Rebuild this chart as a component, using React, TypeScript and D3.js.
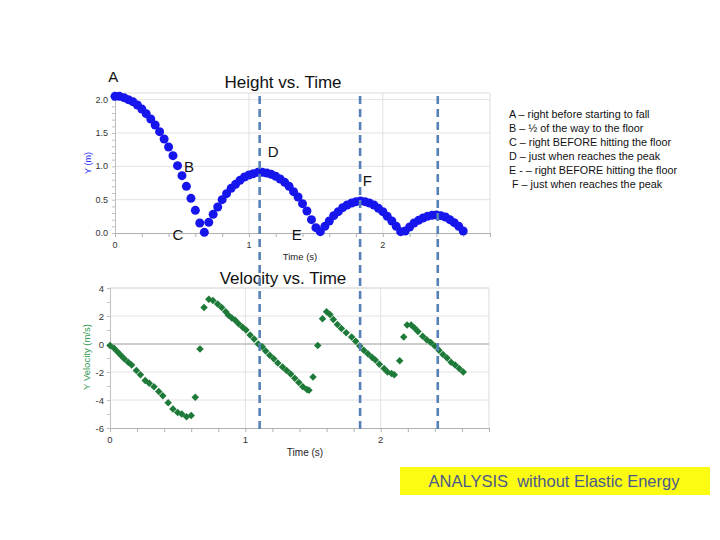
import React, { useEffect, useRef } from "react";
import * as d3 from "d3";

// height readings [time s, height m], one array per bounce
const fallOne: [number, number][] = [
  [0, 2.05], [0.033, 2.05], [0.067, 2.03], [0.1, 2.0], [0.133, 1.97], [0.167, 1.92],
  [0.2, 1.86], [0.233, 1.79], [0.267, 1.71], [0.3, 1.62], [0.333, 1.52], [0.367, 1.41],
  [0.4, 1.29], [0.433, 1.16], [0.467, 1.01], [0.5, 0.86], [0.533, 0.7], [0.567, 0.52],
  [0.6, 0.34], [0.633, 0.15], [0.667, 0.01],
];
const bounceOne: [number, number][] = [
  [0.7, 0.16], [0.733, 0.28], [0.767, 0.39], [0.8, 0.5], [0.833, 0.59], [0.867, 0.67],
  [0.9, 0.73], [0.933, 0.79], [0.967, 0.84], [1.0, 0.87], [1.033, 0.89], [1.067, 0.91],
  [1.1, 0.91], [1.133, 0.9], [1.167, 0.88], [1.2, 0.85], [1.233, 0.81], [1.267, 0.76],
  [1.3, 0.7], [1.333, 0.62], [1.367, 0.54], [1.4, 0.44], [1.433, 0.33], [1.467, 0.2],
  [1.5, 0.08], [1.533, 0.02],
];
const bounceTwo: [number, number][] = [
  [1.567, 0.1], [1.6, 0.18], [1.633, 0.26], [1.667, 0.32], [1.7, 0.38], [1.733, 0.42],
  [1.767, 0.45], [1.8, 0.47], [1.833, 0.48], [1.867, 0.47], [1.9, 0.45], [1.933, 0.42],
  [1.967, 0.37], [2.0, 0.32], [2.033, 0.25], [2.067, 0.18], [2.1, 0.1], [2.133, 0.02],
];
const bounceThree: [number, number][] = [
  [2.167, 0.03], [2.2, 0.09], [2.233, 0.15], [2.267, 0.19], [2.3, 0.225], [2.333, 0.25],
  [2.367, 0.265], [2.4, 0.27], [2.433, 0.26], [2.467, 0.24], [2.5, 0.2], [2.533, 0.155],
  [2.567, 0.1], [2.6, 0.03],
];

// velocity readings [time s, velocity m/s]
const velocity: [number, number][] = [
  [0, -0.1], [0.03, -0.3], [0.055, -0.55], [0.08, -0.8], [0.105, -1.05], [0.135, -1.3],
  [0.16, -1.5], [0.195, -1.9], [0.225, -2.2], [0.26, -2.6], [0.29, -2.8], [0.325, -3.05],
  [0.36, -3.4], [0.39, -3.7], [0.43, -4.2], [0.465, -4.65], [0.5, -4.9], [0.53, -5.0],
  [0.565, -5.2], [0.6, -5.1], [0.63, -3.8], [0.665, -0.35], [0.695, 2.6], [0.73, 3.2],
  [0.76, 3.1], [0.795, 2.85], [0.825, 2.6], [0.855, 2.3], [0.875, 2.05], [0.9, 1.85],
  [0.925, 1.7], [0.95, 1.45], [0.98, 1.2], [1.005, 1.0], [1.035, 0.65], [1.065, 0.35],
  [1.095, 0.0], [1.125, -0.2], [1.15, -0.5], [1.18, -0.8], [1.21, -1.05], [1.24, -1.35],
  [1.275, -1.65], [1.305, -1.9], [1.335, -2.15], [1.365, -2.45], [1.395, -2.75],
  [1.425, -3.05], [1.455, -3.25], [1.47, -3.3], [1.5, -2.35], [1.535, -0.1], [1.57, 1.8],
  [1.6, 2.3], [1.625, 2.1], [1.65, 1.75], [1.68, 1.4], [1.71, 1.1], [1.745, 0.8],
  [1.785, 0.5], [1.815, 0.2], [1.845, -0.15], [1.875, -0.45], [1.905, -0.7],
  [1.935, -0.95], [1.96, -1.15], [1.99, -1.45], [2.025, -1.75], [2.05, -2.0],
  [2.08, -2.1], [2.1, -2.2], [2.14, -1.2], [2.17, 0.5], [2.195, 1.35], [2.225, 1.35],
  [2.25, 1.15], [2.275, 0.9], [2.31, 0.55], [2.34, 0.3], [2.37, 0.1], [2.4, -0.15],
  [2.43, -0.45], [2.46, -0.75], [2.49, -1.0], [2.52, -1.3], [2.55, -1.5], [2.58, -1.75],
  [2.61, -2.0],
];

// vertical markers, in top-chart time
const markerTimes = [1.08, 1.83, 2.41];

// point letters placed in height-chart coordinates
const letters: { label: string; t: number; h: number }[] = [
  { label: "A", t: -0.05, h: 2.27 },
  { label: "B", t: 0.515, h: 0.92 },
  { label: "C", t: 0.43, h: -0.11 },
  { label: "D", t: 1.14, h: 1.14 },
  { label: "E", t: 1.32, h: -0.11 },
  { label: "F", t: 1.85, h: 0.71 },
];

const notes = [
  "A – right before starting to fall",
  "B – ½ of the way to the floor",
  "C – right BEFORE hitting the floor",
  "D – just when reaches the peak",
  "E - – right BEFORE hitting the floor",
  " F – just when reaches the peak",
];

const heightTicks = [0, 0.5, 1.0, 1.5, 2.0];
const velocityTicks = [-6, -4, -2, 0, 2, 4];
const timeTicks = [0, 1, 2];

const FONT = "Liberation Sans, Arial, sans-serif";

const App: React.FC = () => {
  const svgRef = useRef<SVGSVGElement | null>(null);

  useEffect(() => {
    if (!svgRef.current) return;
    const svg = d3.select(svgRef.current);
    svg.selectAll("*").remove();

    svg.append("rect").attr("width", 720).attr("height", 540).attr("fill", "#fff");

    // ---------- top chart ----------
    const xTop = d3.scaleLinear().domain([0, 2.8]).range([115, 490]);
    const yTop = d3.scaleLinear().domain([0, 2.1]).range([233, 93]);

    const top = svg.append("g");
    top.selectAll("line.hgrid")
      .data(heightTicks.filter((d) => d > 0))
      .enter().append("line")
      .attr("x1", xTop(0)).attr("x2", xTop(2.8))
      .attr("y1", (d) => yTop(d)).attr("y2", (d) => yTop(d))
      .attr("stroke", "#e2e2e2");
    top.selectAll("line.vgrid")
      .data([1, 2])
      .enter().append("line")
      .attr("x1", (d) => xTop(d)).attr("x2", (d) => xTop(d))
      .attr("y1", yTop(0)).attr("y2", yTop(2.1))
      .attr("stroke", "#e2e2e2");
    top.append("path")
      .attr("d", `M${xTop(0)},${yTop(2.1)}H${xTop(2.8)}V${yTop(0)}`)
      .attr("fill", "none").attr("stroke", "#dcdcdc");

    const xAxisTop = d3.axisBottom(xTop).tickValues(d3.range(0, 2.81, 0.2)).tickSize(4).tickFormat(() => "");
    top.append("g").attr("transform", `translate(0,${yTop(0)})`).call(xAxisTop)
      .call((g) => g.selectAll("path,line").attr("stroke", "#b0b0b0"));
    const yAxisTop = d3.axisLeft(yTop).tickValues(d3.range(0, 2.11, 0.1)).tickSize(3).tickFormat(() => "");
    top.append("g").attr("transform", `translate(${xTop(0)},0)`).call(yAxisTop)
      .call((g) => g.selectAll("path,line").attr("stroke", "#c0c0c0"));

    top.selectAll("text.xt").data(timeTicks).enter().append("text")
      .attr("x", (d) => xTop(d)).attr("y", 248).attr("text-anchor", "middle")
      .attr("font-family", FONT).attr("font-size", 9).attr("fill", "#333")
      .text((d) => d);
    top.selectAll("text.yt").data(heightTicks).enter().append("text")
      .attr("x", 108).attr("y", (d) => yTop(d) + 3).attr("text-anchor", "end")
      .attr("font-family", FONT).attr("font-size", 9).attr("fill", "#333")
      .text((d) => d.toFixed(1));

    top.append("text").attr("x", 283).attr("y", 88).attr("text-anchor", "middle")
      .attr("font-family", FONT).attr("font-size", 17).attr("fill", "#111")
      .text("Height vs. Time");
    top.append("text").attr("x", 300).attr("y", 260).attr("text-anchor", "middle")
      .attr("font-family", FONT).attr("font-size", 9.5).attr("fill", "#222")
      .text("Time (s)");
    top.append("text").attr("transform", "translate(91,163) rotate(-90)")
      .attr("text-anchor", "middle").attr("font-family", FONT).attr("font-size", 9)
      .attr("fill", "#2a2af0").text("Y (m)");

    const heights = [...fallOne, ...bounceOne, ...bounceTwo, ...bounceThree];
    top.selectAll("circle").data(heights).enter().append("circle")
      .attr("cx", (d) => xTop(d[0])).attr("cy", (d) => yTop(d[1]))
      .attr("r", 4.5).attr("fill", "#1616ec");

    top.selectAll("text.letter").data(letters).enter().append("text")
      .attr("x", (d) => xTop(d.t)).attr("y", (d) => yTop(d.h))
      .attr("font-family", FONT).attr("font-size", 15).attr("fill", "#111")
      .text((d) => d.label);

    // ---------- bottom chart ----------
    const xBot = d3.scaleLinear().domain([0, 2.8]).range([110, 489]);
    const yBot = d3.scaleLinear().domain([-6, 4]).range([428, 288]);

    const bot = svg.append("g");
    bot.selectAll("line.hgrid")
      .data(velocityTicks.filter((d) => d !== 0 && d !== -6))
      .enter().append("line")
      .attr("x1", xBot(0)).attr("x2", xBot(2.8))
      .attr("y1", (d) => yBot(d)).attr("y2", (d) => yBot(d))
      .attr("stroke", "#e2e2e2");
    bot.selectAll("line.vgrid")
      .data([1, 2])
      .enter().append("line")
      .attr("x1", (d) => xBot(d)).attr("x2", (d) => xBot(d))
      .attr("y1", yBot(-6)).attr("y2", yBot(4))
      .attr("stroke", "#e2e2e2");
    bot.append("path")
      .attr("d", `M${xBot(0)},${yBot(4)}H${xBot(2.8)}V${yBot(-6)}`)
      .attr("fill", "none").attr("stroke", "#dcdcdc");
    bot.append("line")
      .attr("x1", xBot(0)).attr("x2", xBot(2.8))
      .attr("y1", yBot(0)).attr("y2", yBot(0))
      .attr("stroke", "#bdbdbd").attr("stroke-width", 1.5);

    const xAxisBot = d3.axisBottom(xBot).tickValues(d3.range(0, 2.81, 0.2)).tickSize(4).tickFormat(() => "");
    bot.append("g").attr("transform", `translate(0,${yBot(-6)})`).call(xAxisBot)
      .call((g) => g.selectAll("path,line").attr("stroke", "#b0b0b0"));
    const yAxisBot = d3.axisLeft(yBot).tickValues(d3.range(-6, 4.01, 1)).tickSize(3).tickFormat(() => "");
    bot.append("g").attr("transform", `translate(${xBot(0)},0)`).call(yAxisBot)
      .call((g) => g.selectAll("path,line").attr("stroke", "#c0c0c0"));

    bot.selectAll("text.xt").data(timeTicks).enter().append("text")
      .attr("x", (d) => xBot(d)).attr("y", 443).attr("text-anchor", "middle")
      .attr("font-family", FONT).attr("font-size", 9.5).attr("fill", "#333")
      .text((d) => d);
    bot.selectAll("text.yt").data(velocityTicks).enter().append("text")
      .attr("x", 104).attr("y", (d) => yBot(d) + 3.5).attr("text-anchor", "end")
      .attr("font-family", FONT).attr("font-size", 9.5).attr("fill", "#333")
      .text((d) => d);

    bot.append("text").attr("x", 283).attr("y", 284).attr("text-anchor", "middle")
      .attr("font-family", FONT).attr("font-size", 17).attr("fill", "#111")
      .text("Velocity vs. Time");
    bot.append("text").attr("x", 305).attr("y", 456).attr("text-anchor", "middle")
      .attr("font-family", FONT).attr("font-size", 10).attr("fill", "#222")
      .text("Time (s)");
    bot.append("text").attr("transform", "translate(90,357) rotate(-90)")
      .attr("text-anchor", "middle").attr("font-family", FONT).attr("font-size", 9.5)
      .attr("fill", "#2e9a4e").text("Y Velocity (m/s)");

    const diamond = d3.symbol().type(d3.symbolSquare).size(28);
    bot.selectAll("path.pt").data(velocity).enter().append("path")
      .attr("d", diamond)
      .attr("transform", (d) => `translate(${xBot(d[0])},${yBot(d[1])}) rotate(45)`)
      .attr("fill", "#1e7a38");

    // ---------- dashed markers ----------
    svg.selectAll("line.marker").data(markerTimes).enter().append("line")
      .attr("x1", (d) => xTop(d)).attr("x2", (d) => xTop(d))
      .attr("y1", 96).attr("y2", 430)
      .attr("stroke", "#5581b8").attr("stroke-width", 2.6)
      .attr("stroke-dasharray", "8,5");

    // ---------- notes ----------
    svg.selectAll("text.note").data(notes).enter().append("text")
      .attr("x", 509).attr("y", (_, i) => 118 + i * 14)
      .attr("font-family", FONT).attr("font-size", 10.8).attr("fill", "#111")
      .attr("xml:space", "preserve").style("white-space", "pre")
      .text((d) => d);

    // ---------- banner ----------
    svg.append("rect").attr("x", 400).attr("y", 467).attr("width", 310).attr("height", 28)
      .attr("fill", "#fcfc12");
    svg.append("text").attr("x", 554).attr("y", 487).attr("text-anchor", "middle")
      .attr("font-family", FONT).attr("font-size", 16.5).attr("fill", "#4a5a8c")
      .attr("xml:space", "preserve").style("white-space", "pre")
      .text("ANALYSIS  without Elastic Energy");
  }, []);

  return (
    <svg
      ref={svgRef}
      width={720}
      height={540}
      style={{ position: "absolute", left: 0, top: 0 }}
    />
  );
};

export default App;
